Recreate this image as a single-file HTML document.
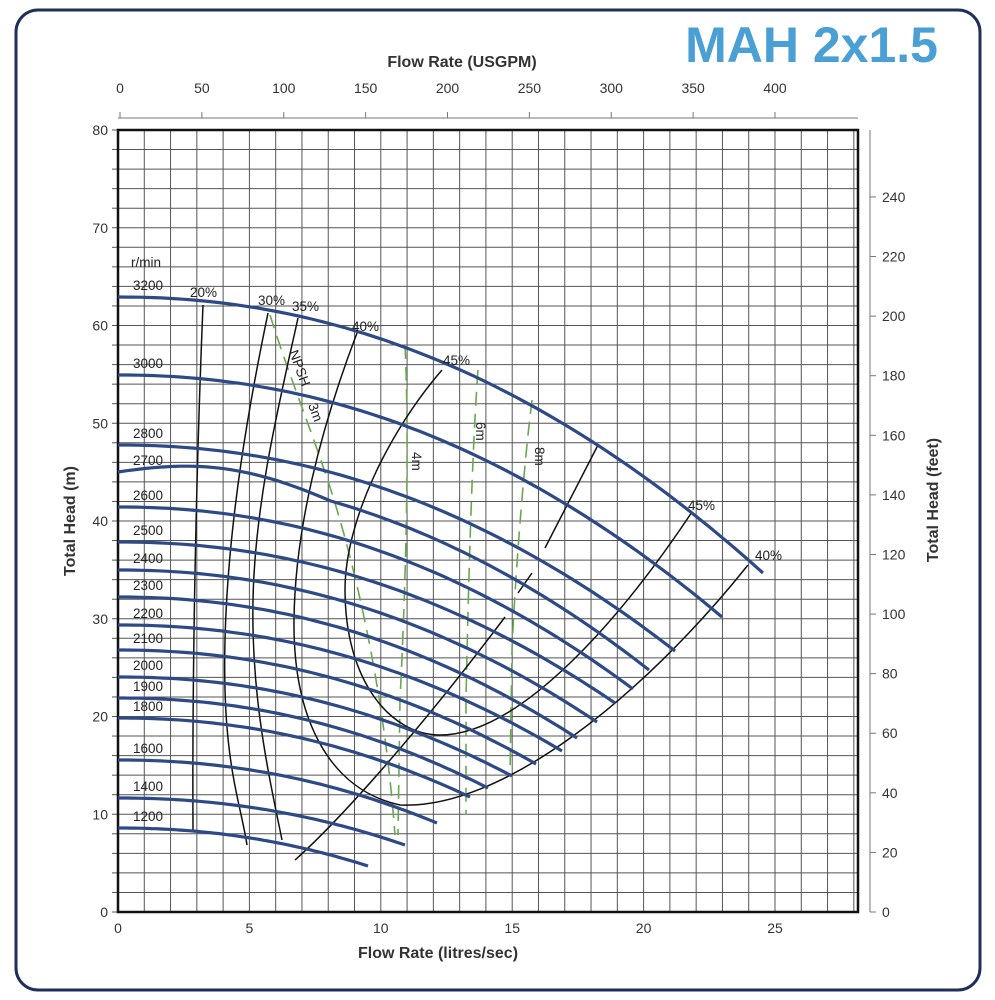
<!DOCTYPE html>
<html><head><meta charset="utf-8"><style>
html,body{margin:0;padding:0;background:#fff;}
svg{display:block;font-family:"Liberation Sans",sans-serif;}
</style></head><body>
<svg id="s" width="995" height="1000" viewBox="0 0 995 1000" xmlns="http://www.w3.org/2000/svg">
<rect x="16" y="10" width="964" height="980" rx="22" fill="#fff" stroke="#1f2f5a" stroke-width="3"/>
<text x="938" y="62" text-anchor="end" font-size="50" font-weight="bold" fill="#4a9fd4">MAH 2x1.5</text>
<text x="462" y="67" text-anchor="middle" font-size="16" font-weight="bold" fill="#333">Flow Rate (USGPM)</text>
<text x="438" y="958" text-anchor="middle" font-size="16" font-weight="bold" fill="#333">Flow Rate (litres/sec)</text>
<text transform="translate(75,521) rotate(-90)" text-anchor="middle" font-size="16" font-weight="bold" fill="#333">Total Head (m)</text>
<text transform="translate(938,500) rotate(-90)" text-anchor="middle" font-size="16" font-weight="bold" fill="#333">Total Head (feet)</text>
<g id="grid" stroke="#555" stroke-width="1"></g>
<g id="ax" font-size="14" fill="#333"></g>
<rect x="118" y="130" width="740" height="782" fill="none" stroke="#111" stroke-width="2.5"/>
<g id="npsh" fill="none" stroke="#6aa84f" stroke-width="1.6" stroke-dasharray="14,8">
<path d="M270,315 C290,380 320,450 340,520 S385,700 395,835"/>
<path d="M405,345 C410,450 405,600 400,700 L398,835"/>
<path d="M478,370 C472,450 468,600 466,700 L466,815"/>
<path d="M532,400 C522,480 514,600 512,650 L510,775"/>
</g>
<g id="eff" fill="none" stroke="#111" stroke-width="1.5">
<path d="M203,305 C197,450 192,650 193,830"/>
<path d="M268,313 C250,400 228,520 225,640 S240,800 247,845"/>
<path d="M298,318 C280,400 255,500 253,600 S270,780 282,840"/>
<path d="M357,333 C320,430 295,530 294,620 C293,720 330,790 400,805 C500,810 640,700 748,565"/>
<path d="M442,370 C390,430 345,520 345,590 C345,680 390,735 440,735 C520,735 620,620 692,512"/>
<path d="M295,860 C340,820 420,730 505,617"/>
<path d="M518,593 L532,573"/>
<path d="M545,548 L598,445"/>
</g>
<g id="spd" fill="none" stroke="#2e4a86" stroke-width="3.2"></g>
<g id="lbl" font-size="13.5" fill="#222"></g>
<g font-size="13.5" fill="#222">
<text x="131" y="267">r/min</text>
<text x="190" y="297">20%</text><text x="258" y="305">30%</text><text x="292" y="311">35%</text>
<text x="352" y="331">40%</text><text x="443" y="365">45%</text>
<text x="688" y="510">45%</text><text x="755" y="560">40%</text>
<text transform="translate(289,352) rotate(70)">NPSH</text>
<text transform="translate(308,405) rotate(70)">3m</text>
<text transform="translate(412,452) rotate(90)">4m</text>
<text transform="translate(476,422) rotate(90)">6m</text>
<text transform="translate(535,447) rotate(90)">8m</text>
</g>
</svg>
<script>
var NS="http://www.w3.org/2000/svg";
function el(p,t,a,txt){var e=document.createElementNS(NS,t);for(var k in a)e.setAttribute(k,a[k]);if(txt!=null)e.textContent=txt;document.getElementById(p).appendChild(e);return e;}
var X0=118,XS=26.28,Y0=912,YS=9.775;
for(var i=0;i<=28;i++){var x=X0+i*XS;if(x>858)break;el("grid","line",{x1:x,y1:130,x2:x,y2:912});}
for(var j=0;j<=40;j++){var y=Y0-j*2*YS;el("grid","line",{x1:118,y1:y,x2:858,y2:y});}
// left axis
for(var m=0;m<=80;m+=10){var y=Y0-m*YS;el("ax","text",{x:108,y:y+5,"text-anchor":"end"},m);}
for(var m=0;m<=80;m+=2){var y=Y0-m*YS;el("ax","line",{x1:112,y1:y,x2:118,y2:y,stroke:"#555"});}
// bottom
for(var q=0;q<=25;q+=5){el("ax","text",{x:X0+q*XS,y:933,"text-anchor":"middle"},q);}
// top
el("ax","line",{x1:118,y1:118,x2:858,y2:118,stroke:"#777"});
for(var g=0;g<=400;g+=50){var x=120+g*1.6375;el("ax","text",{x:x,y:93,"text-anchor":"middle"},g);el("ax","line",{x1:x,y1:112,x2:x,y2:118,stroke:"#777"});}
// right
el("ax","line",{x1:870,y1:130,x2:870,y2:912,stroke:"#777"});
for(var f=0;f<=240;f+=20){var y=Y0-f*0.3048*YS;el("ax","text",{x:882,y:y+5},f);el("ax","line",{x1:870,y1:y,x2:876,y2:y,stroke:"#777"});}
// speed curves
var C=[["3200",297,763,573],["3000",375,722,617],["2800",445,675,651],["2700",472,649,670],["2600",507,633,689],["2500",542,615,703],["2400",570,597,722],["2300",597,577,738],["2200",625,562,751],["2100",650,536,764],["2000",677,512,776],["1900",698,488,788],["1800",718,470,797],["1600",760,437,823],["1400",798,405,845],["1200",828,368,866]];
C.forEach(function(c){var y0=c[1],xe=c[2],ye=c[3],d="";
 for(var k=0;k<=60;k++){var t=k/60,x=118+t*(xe-118),y=y0+(ye-y0)*Math.pow(t,2.1);
  if(c[0]=="2700")y-=10*Math.sin(Math.PI*Math.min(t*2.5,1))*(t<0.4?1:0);
  d+=(k?"L":"M")+x.toFixed(1)+","+y.toFixed(1);}
 el("spd","path",{d:d});
 el("lbl","text",{x:133,y:y0-7},c[0]);
});
</script>
</body></html>
